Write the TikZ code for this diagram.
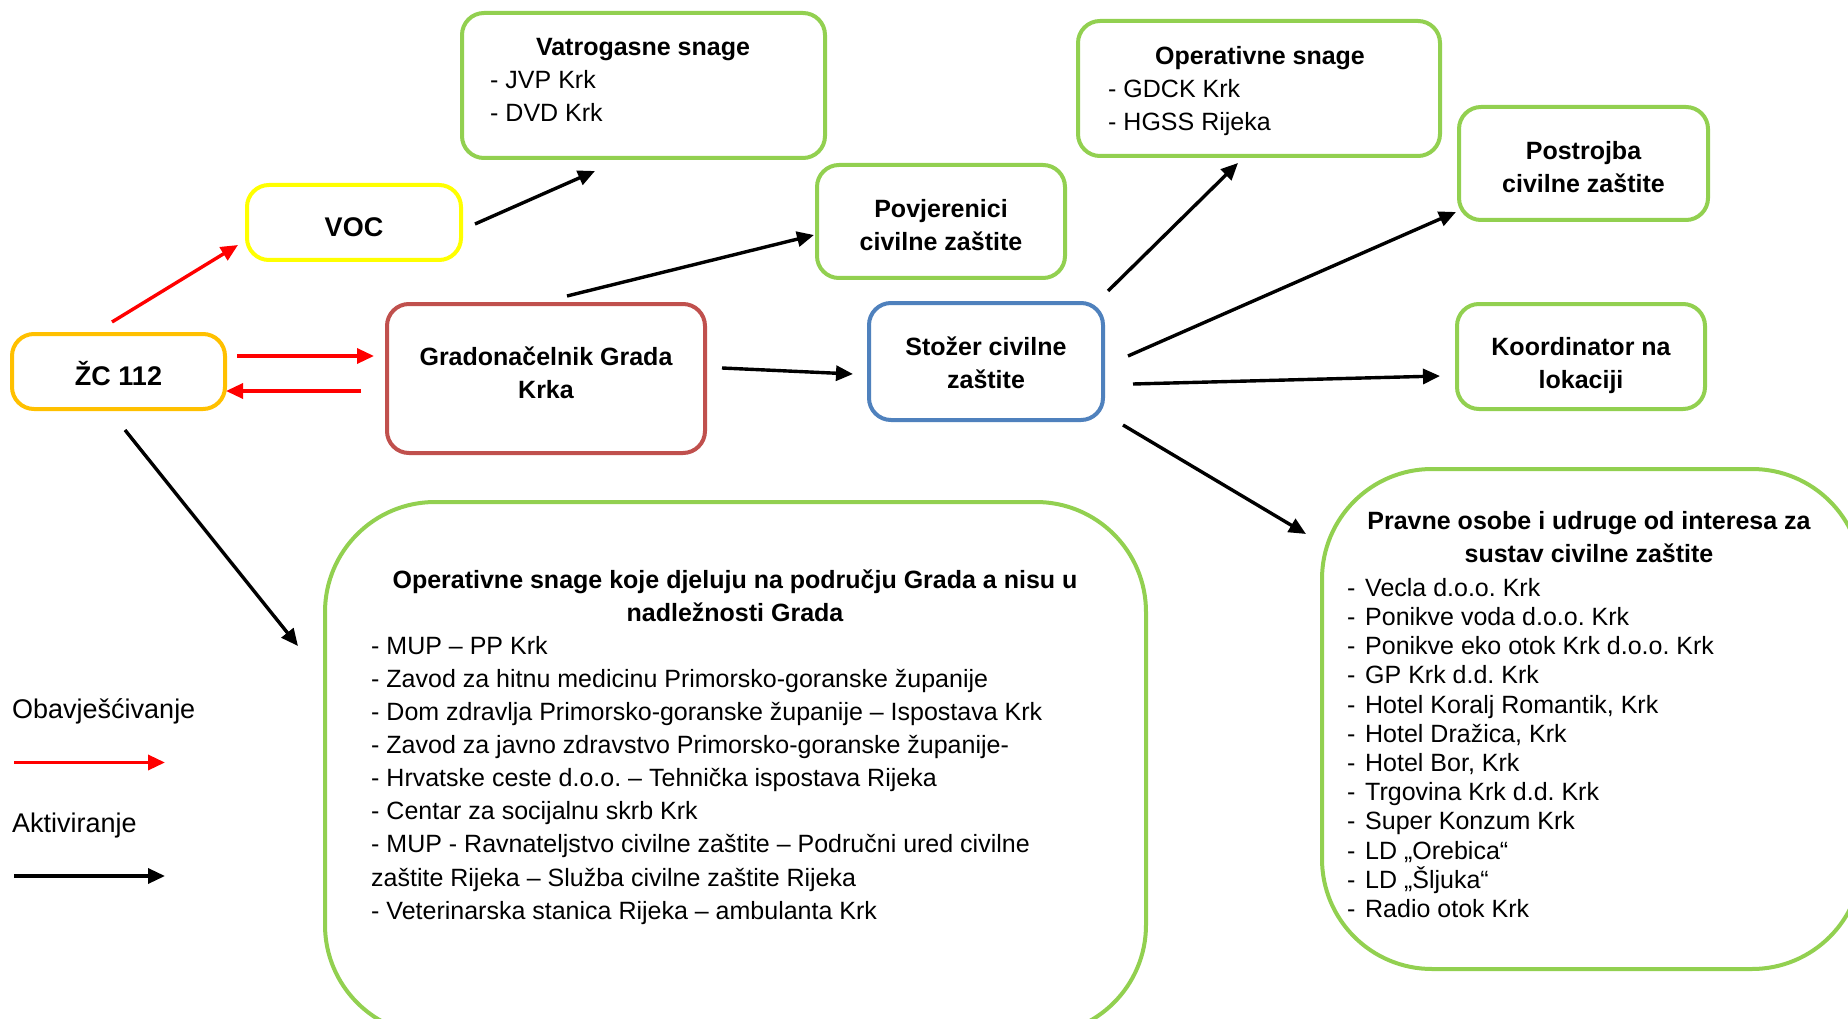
\documentclass[tikz,border=0pt]{standalone}
\usepackage{fontspec}
\setmainfont{Liberation Sans}
\usetikzlibrary{arrows.meta,calc}
\definecolor{cgreen}{HTML}{92D050}
\definecolor{corange}{HTML}{FFC000}
\definecolor{cyellow}{HTML}{FFFF00}
\definecolor{cbrown}{HTML}{C0504D}
\definecolor{cblue}{HTML}{4F81BD}
\definecolor{cred}{HTML}{FF0000}
\newcommand{\dl}{\makebox[18pt][l]{-}}
\frenchspacing
\begin{document}
\frenchspacing
\begin{tikzpicture}[x=1pt,y=-1pt,
  box/.style={draw, line width=4pt, rounded corners=22pt, inner sep=0pt},
  bigbox/.style={draw=cgreen, line width=4pt, rounded corners=110pt, inner sep=0pt},
  ttl/.style={inner sep=0pt, font=\fontsize{25}{33}\selectfont\bfseries, align=center},
  big27/.style={inner sep=0pt, font=\fontsize{27}{33}\selectfont\bfseries, align=center},
  lst/.style={inner sep=0pt, font=\fontsize{25}{33}\selectfont, align=left},
  lgd/.style={inner sep=0pt, font=\fontsize{27}{33}\selectfont},
  act/.style={line width=3.4pt, -{Triangle[length=17pt,width=15pt]}},
  inf/.style={act, draw=cred, fill=cred},
]
\useasboundingbox (0,0) rectangle (1848,1019);
\fill[white] (0,0) rectangle (1848,1019);

% boxes
\node[box, draw=corange, minimum width=213pt, minimum height=75pt] (zc) at (118.5,371.5) {};
\node[box, draw=cyellow, minimum width=214pt, minimum height=75pt] (voc) at (354,222.5) {};
\node[box, draw=cgreen, minimum width=363pt, minimum height=145pt] (vat) at (643.5,85.5) {};
\node[box, draw=cgreen, minimum width=248pt, minimum height=113pt] (povj) at (941,221.5) {};
\node[box, draw=cbrown, minimum width=318pt, minimum height=149pt] (grad) at (546,378.5) {};
\node[box, draw=cblue, minimum width=234pt, minimum height=117pt] (stozer) at (986,361.5) {};
\node[box, draw=cgreen, minimum width=362pt, minimum height=135pt] (oper) at (1259,88.5) {};
\node[box, draw=cgreen, minimum width=249pt, minimum height=113pt] (postr) at (1583.5,163.5) {};
\node[box, draw=cgreen, minimum width=248pt, minimum height=105pt] (koord) at (1581,356.5) {};
\node[bigbox, minimum width=540pt, minimum height=500pt] (pravne) at (1592,719) {};
\node[bigbox, minimum width=821pt, minimum height=533pt] (big) at (735.5,768.5) {};

% texts of the simple boxes
\node[big27] (zcT) at ($(zc.center)+(0,2.5)$) {ŽC 112};
\node[big27] (vocT) at ($(voc.center)+(0,4.5)$) {VOC};
\node[ttl] (povjT) at ($(povj.center)+(0,3.5)$) {Povjerenici\\civilne zaštite};
\node[ttl] (gradT) at ($(grad.center)+(0,-6)$) {Gradonačelnik Grada\\Krka};
\node[ttl] (stozerT) at ($(stozer.center)+(0,1.2)$) {Stožer civilne\\zaštite};
\node[ttl] (postrT) at ($(postr.center)+(0,3.5)$) {Postrojba\\civilne zaštite};
\node[ttl] (koordT) at ($(koord.center)+(0,9.4)$) {Koordinator na\\lokaciji};

% texts inside list boxes
\node[ttl, anchor=north] (vatT) at (643,38) {Vatrogasne snage};
\node[lst, anchor=north west] (vatL) at (490,70.5) {- JVP Krk\\- DVD Krk};
\node[ttl, anchor=north] (operT) at (1260,46.5) {Operativne snage};
\node[lst, anchor=north west] (operL) at (1108,79) {- GDCK Krk\\- HGSS Rijeka};
\node[ttl, anchor=north] (pravT) at (1589,511) {Pravne osobe i udruge od interesa za\\sustav civilne zaštite};
\node[lst, anchor=north west, font=\fontsize{25}{29.2}\selectfont] (pravL) at (1347,578) {%
\dl Vecla d.o.o. Krk\\
\dl Ponikve voda d.o.o. Krk\\
\dl Ponikve eko otok Krk d.o.o. Krk\\
\dl GP Krk d.d. Krk\\
\dl Hotel Koralj Romantik, Krk\\
\dl Hotel Dražica, Krk\\
\dl Hotel Bor, Krk\\
\dl Trgovina Krk d.d. Krk\\
\dl Super Konzum Krk\\
\dl LD „Orebica“\\
\dl LD „Šljuka“\\
\dl Radio otok Krk};
\node[ttl, anchor=north] (bigT) at (735,570) {Operativne snage koje djeluju na području Grada a nisu u\\nadležnosti Grada};
\node[lst, anchor=north west, font=\fontsize{25}{33.1}\selectfont] (bigL) at (371,636) {%
- MUP – PP Krk\\
- Zavod za hitnu medicinu Primorsko-goranske županije\\
- Dom zdravlja Primorsko-goranske županije – Ispostava Krk\\
- Zavod za javno zdravstvo Primorsko-goranske županije-\\
- Hrvatske ceste d.o.o. – Tehnička ispostava Rijeka\\
- Centar za socijalnu skrb Krk\\
- MUP - Ravnateljstvo civilne zaštite – Područni ured civilne\\
zaštite Rijeka – Služba civilne zaštite Rijeka\\
- Veterinarska stanica Rijeka – ambulanta Krk};

% legend
\node[lgd, anchor=base west] (lgInf) at (12,718) {Obavješćivanje};
\node[lgd, anchor=base west] (lgAct) at (12,832) {Aktiviranje};
\coordinate (lgInfS) at (14,762.5);
\coordinate (lgInfE) at (165,762.5);
\coordinate (lgActS) at (14,876);
\coordinate (lgActE) at (165,876);
\draw[inf] (lgInfS) -- (lgInfE);
\draw[act] (lgActS) -- (lgActE);

% connector end points
\coordinate (zcVocS) at (112,322);   \coordinate (zcVocE) at (238,245);
\coordinate (zcGradS) at (237,356);  \coordinate (zcGradE) at (374,356);
\coordinate (gradZcS) at (361,391);  \coordinate (gradZcE) at (226,391);
\coordinate (vocVatS) at (475,224);  \coordinate (vocVatE) at (595,171);
\coordinate (gradPovS) at (567,296); \coordinate (gradPovE) at (814,235);
\coordinate (gradStoS) at (722,368); \coordinate (gradStoE) at (853,374);
\coordinate (stoOpS) at (1108,291);  \coordinate (stoOpE) at (1238,163);
\coordinate (stoPoS) at (1128,356);  \coordinate (stoPoE) at (1456,212);
\coordinate (stoKoS) at (1133,384);  \coordinate (stoKoE) at (1440,376);
\coordinate (stoPrS) at (1123,425);  \coordinate (stoPrE) at (1306,534);
\coordinate (zcBigS) at (125,430);   \coordinate (zcBigE) at (298,646);

\draw[inf] (zcVocS) -- (zcVocE);
\draw[inf] (zcGradS) -- (zcGradE);
\draw[inf] (gradZcS) -- (gradZcE);
\draw[act] (vocVatS) -- (vocVatE);
\draw[act] (gradPovS) -- (gradPovE);
\draw[act] (gradStoS) -- (gradStoE);
\draw[act] (stoOpS) -- (stoOpE);
\draw[act] (stoPoS) -- (stoPoE);
\draw[act] (stoKoS) -- (stoKoE);
\draw[act] (stoPrS) -- (stoPrE);
\draw[act] (zcBigS) -- (zcBigE);
\end{tikzpicture}
\end{document}
